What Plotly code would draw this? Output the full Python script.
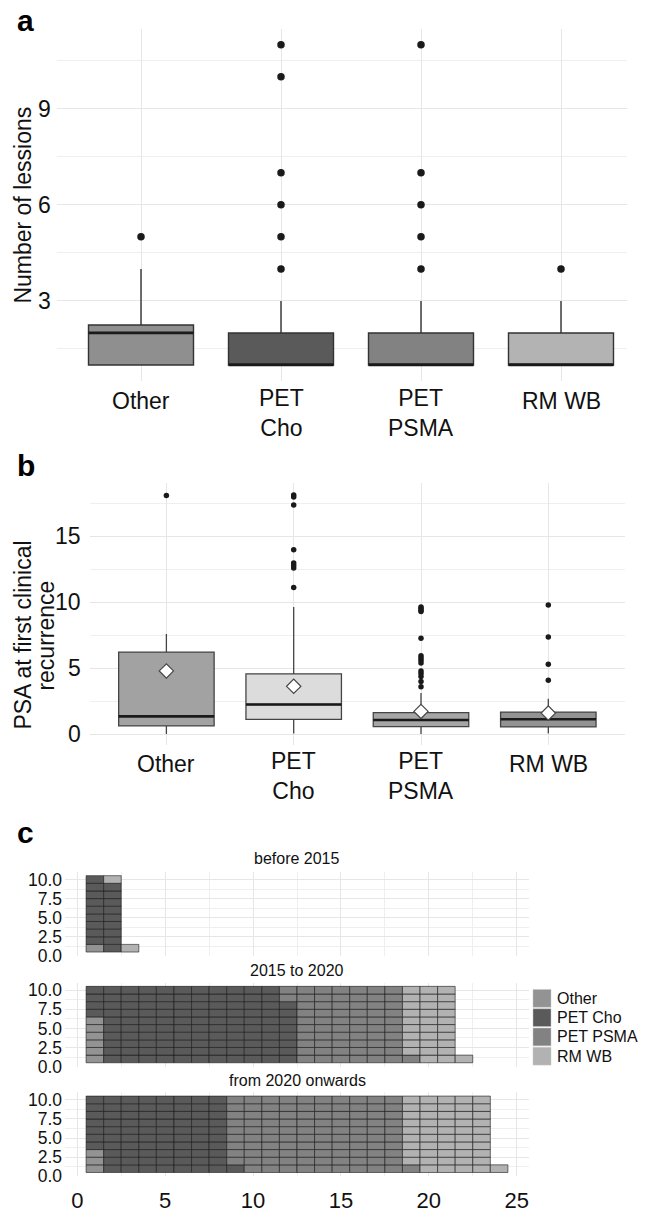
import plotly.graph_objects as go

W, H = 646, 1213
FONT = "Liberation Sans, Arial, sans-serif"

# ---------------- data ----------------
categories = ["Other", "PET Cho", "PET PSMA", "RM WB"]
tick_labels = ["Other", "PET<br>Cho", "PET<br>PSMA", "RM WB"]

# panel a: number of lesions (box statistics + outliers)
a_yticks = [3, 6, 9]
a_q1 = [1, 1, 1, 1]
a_median = [2, 1, 1, 1]
a_q3 = [2.25, 2, 2, 2]
a_lower = [1, 1, 1, 1]
a_upper = [4, 3, 3, 3]
a_outliers = [[5], [11, 10, 7, 6, 5, 4], [11, 7, 6, 5, 4], [4]]
a_fill = ["#8f8f8f", "#5a5a5a", "#828282", "#b3b3b3"]

# panel b: PSA at first clinical recurrence
b_yticks = [0, 5, 10, 15]
b_q1 = [0.63, 1.13, 0.58, 0.55]
b_median = [1.35, 2.25, 1.08, 1.13]
b_q3 = [6.23, 4.58, 1.63, 1.68]
b_lower = [0.02, 0.05, 0.02, 0.05]
b_upper = [7.6, 9.65, 3.13, 2.68]
b_mean = [4.8, 3.63, 1.73, 1.6]
b_outliers = [
    [18.1],
    [18.15, 18.0, 17.38, 14.0, 12.98, 12.8, 12.6, 11.13],
    [9.65, 9.53, 9.4, 9.3, 7.28, 5.95, 5.78, 5.6, 5.4, 4.8, 4.6, 4.38, 4.0, 3.6],
    [9.8, 7.38, 5.3, 4.1],
]
b_fill = ["#a2a2a2", "#dcdcdc", "#a6a6a6", "#939393"]

# panel c: waffle counts per period
periods = ["before 2015", "2015 to 2020", "from 2020 onwards"]
c_other = [1, 6, 3]
c_cho = [18, 112, 78]
c_psma = [0, 63, 100]
c_rmwb = [2, 30, 50]
c_fill = ["#939393", "#5a5a5a", "#828282", "#b2b2b2"]
c_yticks = [0, 2.5, 5, 7.5, 10]
c_xticks = [0, 5, 10, 15, 20, 25]


def px(y):
    return 1 - y / H


fig = go.Figure()
BOX_W = 0.75
LINE = "#333333"

# ---------------- panel a ----------------
for i, cat in enumerate(categories):
    fig.add_trace(go.Box(
        x=[i], q1=[a_q1[i]], median=[a_median[i]], q3=[a_q3[i]],
        lowerfence=[a_lower[i]], upperfence=[a_upper[i]],
        width=BOX_W, whiskerwidth=0, fillcolor=a_fill[i],
        line=dict(color=LINE, width=1.4), boxpoints=False,
        showlegend=False, hoverinfo="skip", xaxis="x", yaxis="y"))
    fig.add_trace(go.Scatter(
        x=[i - BOX_W / 2, i + BOX_W / 2], y=[a_median[i], a_median[i]],
        mode="lines", line=dict(color="#1a1a1a", width=2.8),
        showlegend=False, hoverinfo="skip", xaxis="x", yaxis="y"))
    fig.add_trace(go.Scatter(
        x=[i] * len(a_outliers[i]), y=a_outliers[i], mode="markers",
        marker=dict(color="#1a1a1a", size=7.5),
        showlegend=False, hoverinfo="skip", xaxis="x", yaxis="y"))

# ---------------- panel b ----------------
for i, cat in enumerate(categories):
    fig.add_trace(go.Box(
        x=[i], q1=[b_q1[i]], median=[b_median[i]], q3=[b_q3[i]],
        lowerfence=[b_lower[i]], upperfence=[b_upper[i]],
        width=BOX_W, whiskerwidth=0, fillcolor=b_fill[i],
        line=dict(color="#444444", width=1.3), boxpoints=False,
        showlegend=False, hoverinfo="skip", xaxis="x2", yaxis="y2"))
    fig.add_trace(go.Scatter(
        x=[i - BOX_W / 2, i + BOX_W / 2], y=[b_median[i], b_median[i]],
        mode="lines", line=dict(color="#1a1a1a", width=2.6),
        showlegend=False, hoverinfo="skip", xaxis="x2", yaxis="y2"))
    fig.add_trace(go.Scatter(
        x=[i] * len(b_outliers[i]), y=b_outliers[i], mode="markers",
        marker=dict(color="#1a1a1a", size=5.5),
        showlegend=False, hoverinfo="skip", xaxis="x2", yaxis="y2"))
    fig.add_trace(go.Scatter(
        x=[i], y=[b_mean[i]], mode="markers",
        marker=dict(symbol="diamond", color="white", size=11,
                    line=dict(color="#444444", width=1.2)),
        showlegend=False, hoverinfo="skip", xaxis="x2", yaxis="y2"))

# ---------------- panel c (waffles) ----------------
counts = [c_other, c_cho, c_psma, c_rmwb]
for p in range(len(periods)):
    k = 0
    for c in range(len(categories)):
        n = counts[c][p]
        cols = []
        bases = []
        for j in range(n):
            cols.append((k + j) // 10 + 1)
            bases.append((k + j) % 10 + 1 - 0.5)
        k += n
        if n == 0:
            continue
        fig.add_trace(go.Bar(
            x=cols, y=[1] * n, base=bases, width=1,
            marker=dict(color=c_fill[c],
                        line=dict(color="rgba(25,25,25,0.75)", width=0.8)),
            showlegend=False, hoverinfo="skip",
            xaxis=f"x{3 + p}", yaxis=f"y{3 + p}"))

GRID = "#e6e6e6"
MINOR = "#efefef"

layout = dict(
    width=W, height=H, margin=dict(l=0, r=0, t=0, b=0),
    paper_bgcolor="white", plot_bgcolor="white",
    barmode="overlay", showlegend=False,
    font=dict(family=FONT, color="#111111"),
    xaxis=dict(domain=[57 / W, 627 / W], range=[-0.6, 3.4714],
               tickvals=[0, 1, 2, 3], showticklabels=False,
               showgrid=True, gridcolor=GRID, gridwidth=1.2, zeroline=False,
               showline=False, ticks=""),
    yaxis=dict(domain=[px(383.4), px(27)], range=[0.5, 11.5],
               tickvals=a_yticks, showticklabels=False,
               showgrid=True, gridcolor=GRID, gridwidth=1.2, zeroline=False,
               minor=dict(tickvals=[1.5, 4.5, 7.5, 10.5], showgrid=True,
                          gridcolor=MINOR, gridwidth=1),
               ticks=""),
    xaxis2=dict(domain=[90 / W, 624.7 / W], range=[-0.6, 3.6],
                tickvals=[0, 1, 2, 3], showticklabels=False,
                showgrid=True, gridcolor=GRID, gridwidth=1.2, zeroline=False,
                ticks=""),
    yaxis2=dict(domain=[px(751.4), px(486.7)], range=[-0.8, 19.05],
                tickvals=b_yticks, showticklabels=False,
                showgrid=True, gridcolor=GRID, gridwidth=1.2, zeroline=False,
                minor=dict(tickvals=[2.5, 7.5, 12.5, 17.5], showgrid=True,
                           gridcolor=MINOR, gridwidth=1),
                ticks=""),
)

panel_px = [(880, 965), (992, 1077), (1103, 1188)]
for p in range(3):
    xa = "xaxis" + str(3 + p)
    ya = "yaxis" + str(3 + p)
    top, bot = panel_px[p]
    layout[xa] = dict(domain=[65 / W, 529 / W], range=[-0.7, 25.7],
                      tickvals=c_xticks, showticklabels=(p == 2),
                      tickfont=dict(family=FONT, size=22, color="#111111"),
                      ticklabelstandoff=9,
                      showgrid=True, gridcolor=GRID, gridwidth=1.1, zeroline=False,
                      minor=dict(dtick=2.5, tick0=0, showgrid=True,
                                 gridcolor=MINOR, gridwidth=0.9),
                      ticks="", anchor="y" + str(3 + p))
    layout[ya] = dict(domain=[px(bot), px(top)], range=[0, 11],
                      tickvals=c_yticks, ticktext=[f"{v:.1f}" for v in c_yticks],
                      tickfont=dict(family=FONT, size=17.5, color="#111111"),
                      ticklabelstandoff=2,
                      showgrid=True, gridcolor=GRID, gridwidth=1.1, zeroline=False,
                      minor=dict(dtick=1.25, tick0=0, showgrid=True,
                                 gridcolor=MINOR, gridwidth=0.9),
                      ticks="", anchor="x" + str(3 + p))

fig.update_layout(**layout)

ann = []
BIG = dict(family=FONT, size=23, color="#111")
# panel letters
for letter, yc in [("a", 19), ("b", 469), ("c", 840)]:
    ann.append(dict(text=f"<b>{letter}</b>", x=15 / W, y=px(yc), xref="paper",
                    yref="paper", xanchor="left", yanchor="middle",
                    showarrow=False, font=dict(family=FONT, size=30, color="#000")))

# y tick labels for panels a and b
for v in a_yticks:
    ann.append(dict(text=str(v), x=53 / W, y=v, xref="paper", yref="y",
                    xanchor="right", yanchor="middle", showarrow=False, font=BIG))
for v in b_yticks:
    ann.append(dict(text=str(v), x=83 / W, y=v, xref="paper", yref="y2",
                    xanchor="right", yanchor="middle", showarrow=False, font=BIG))

# y titles
ann.append(dict(text="Number of lessions", x=23 / W, y=px(206), xref="paper",
                yref="paper", textangle=-90, showarrow=False,
                xanchor="center", yanchor="middle", font=BIG))
ann.append(dict(text="PSA at first clinical", x=23 / W, y=px(641), xref="paper",
                yref="paper", textangle=-90, showarrow=False,
                xanchor="center", yanchor="middle", font=BIG))
ann.append(dict(text="recurrence", x=46 / W, y=px(641), xref="paper",
                yref="paper", textangle=-90, showarrow=False,
                xanchor="center", yanchor="middle", font=BIG))

# category labels under panels a and b
for xr, y1 in [("x", 404), ("x2", 771)]:
    for i in range(len(categories)):
        two = "<br>" in tick_labels[i]
        ann.append(dict(text=tick_labels[i], x=i,
                        y=px(y1 + 12 if two else y1), xref=xr, yref="paper",
                        showarrow=False, xanchor="center", yanchor="middle",
                        font=BIG))

# facet strip titles
for p, yc in enumerate([867, 980, 1091]):
    ann.append(dict(text=periods[p], x=297 / W, y=px(yc), xref="paper",
                    yref="paper", showarrow=False, xanchor="center",
                    yanchor="middle",
                    font=dict(family=FONT, size=16, color="#111")))

# manual legend
shapes = []
leg_top = [999, 1018.5, 1038, 1057.5]
for c in range(len(categories)):
    shapes.append(dict(type="rect", xref="paper", yref="paper",
                       x0=533 / W, x1=551 / W, y0=px(leg_top[c] + 18),
                       y1=px(leg_top[c]), fillcolor=c_fill[c],
                       line=dict(color="rgba(200,200,200,0.8)", width=0.6)))
    ann.append(dict(text=categories[c], x=555 / W, y=px(leg_top[c] + 9),
                    xref="paper", yref="paper", showarrow=False,
                    xanchor="left", yanchor="middle",
                    font=dict(family=FONT, size=16, color="#111")))

fig.update_layout(annotations=ann, shapes=shapes)
fig.write_html("out.html")
